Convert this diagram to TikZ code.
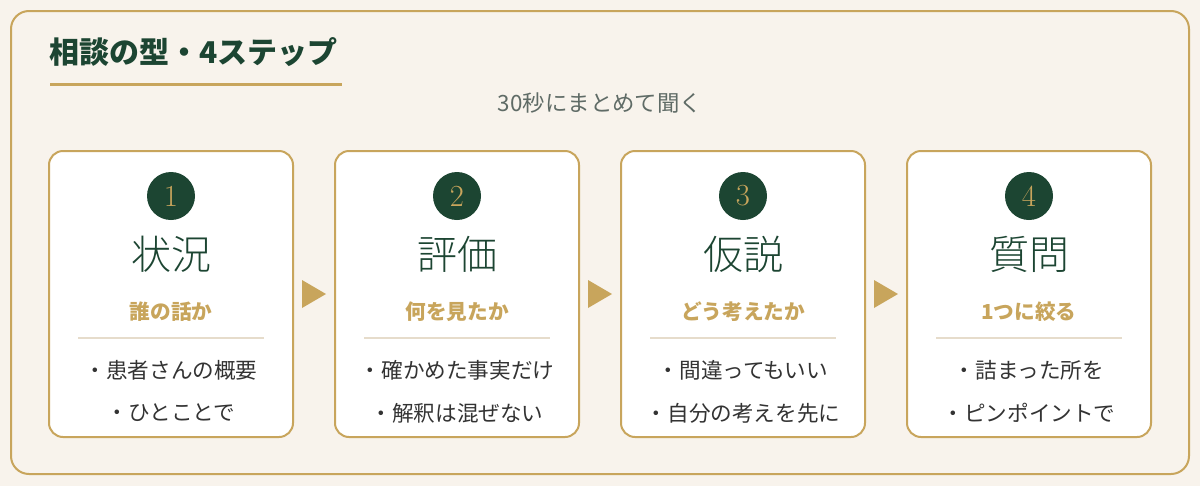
\documentclass[tikz,border=0pt]{standalone}
\usepackage{fontspec}
\usetikzlibrary{calc}
\newfontfamily\jp{Noto Sans CJK JP}
\newfontfamily\jplight{Noto Sans CJK JP Light}
\definecolor{gold}{HTML}{C8A55C}
\definecolor{bgc}{HTML}{F8F3EC}
\definecolor{dgreen}{HTML}{1C4532}
\definecolor{gtext}{HTML}{5F6B66}
\definecolor{btext}{HTML}{333333}
\definecolor{sepc}{HTML}{E6DCCB}
\tikzset{
  stepbox/.style={draw=gold, line width=1.5pt, fill=white, rounded corners=10.5pt,
    minimum width=183pt, minimum height=214.5pt, inner sep=0pt},
  numcirc/.style={circle, fill=dgreen, minimum size=36pt, inner sep=0pt,
    text=gold, font=\fontsize{23}{23}\selectfont},
  bigtitle/.style={text=dgreen, font=\jplight\fontsize{30}{32}\selectfont, inner sep=0pt},
  subt/.style={text=gold, font=\jp\bfseries\fontsize{15.5}{18}\selectfont, inner sep=0pt},
  bullet/.style={text=btext, font=\jp\fontsize{16.2}{18}\selectfont, inner sep=0pt},
  sepline/.style={draw=sepc, line width=1.1pt},
  flowtri/.style={fill=gold},
}
\begin{document}
\begin{tikzpicture}[x=0.75pt,y=-0.75pt]
\fill[bgc] (0,0) rectangle (1200,486);
\useasboundingbox (0,0) rectangle (1200,486);
\draw[gold, line width=1.5pt, rounded corners=13.5pt] (11,11) rectangle (1189,474);
\node[anchor=west, inner sep=0pt, text=dgreen, font=\jp\bfseries\fontsize{22.5}{26}\selectfont] (title) at (49,52) {相談の型・4ステップ};
\coordinate (ul1) at (50,84);
\coordinate (ul2) at (342,84);
\draw[gold, line width=2.25pt] (ul1) -- (ul2);
\node[inner sep=0pt, text=gtext, font=\jp\fontsize{16.8}{18}\selectfont] (subtitle) at (600,103) {30秒にまとめて聞く};

\foreach \i/\cx/\num/\ttl/\sub/\la/\lb in {
  1/171/1/状況/誰の話か/・患者さんの概要/・ひとことで,
  2/457/2/評価/何を見たか/・確かめた事実だけ/・解釈は混ぜない,
  3/743/3/仮説/どう考えたか/・間違ってもいい/・自分の考えを先に,
  4/1029/4/質問/1つに絞る/・詰まった所を/・ピンポイントで}{
  \node[stepbox] (b\i) at (\cx,294) {};
  \node[numcirc] (n\i) at (\cx,196) {\num};
  \node[bigtitle] (t\i) at (\cx,254) {\ttl};
  \node[subt] (s\i) at (\cx,312) {\sub};
  \coordinate (sa\i) at (\cx-93,338);
  \coordinate (sb\i) at (\cx+93,338);
  \draw[sepline] (sa\i) -- (sb\i);
  \node[bullet] (la\i) at (\cx,370) {\la};
  \node[bullet] (lb\i) at (\cx,413) {\lb};
}
\foreach \a/\b in {1/2,2/3,3/4}{
  \coordinate (m\a) at ($(b\a.east)!0.5!(b\b.west)$);
  \fill[flowtri] ($(m\a)+(-12,-14)$) -- ($(m\a)+(-12,14)$) -- ($(m\a)+(12,0)$) -- cycle;
}
\end{tikzpicture}
\end{document}
